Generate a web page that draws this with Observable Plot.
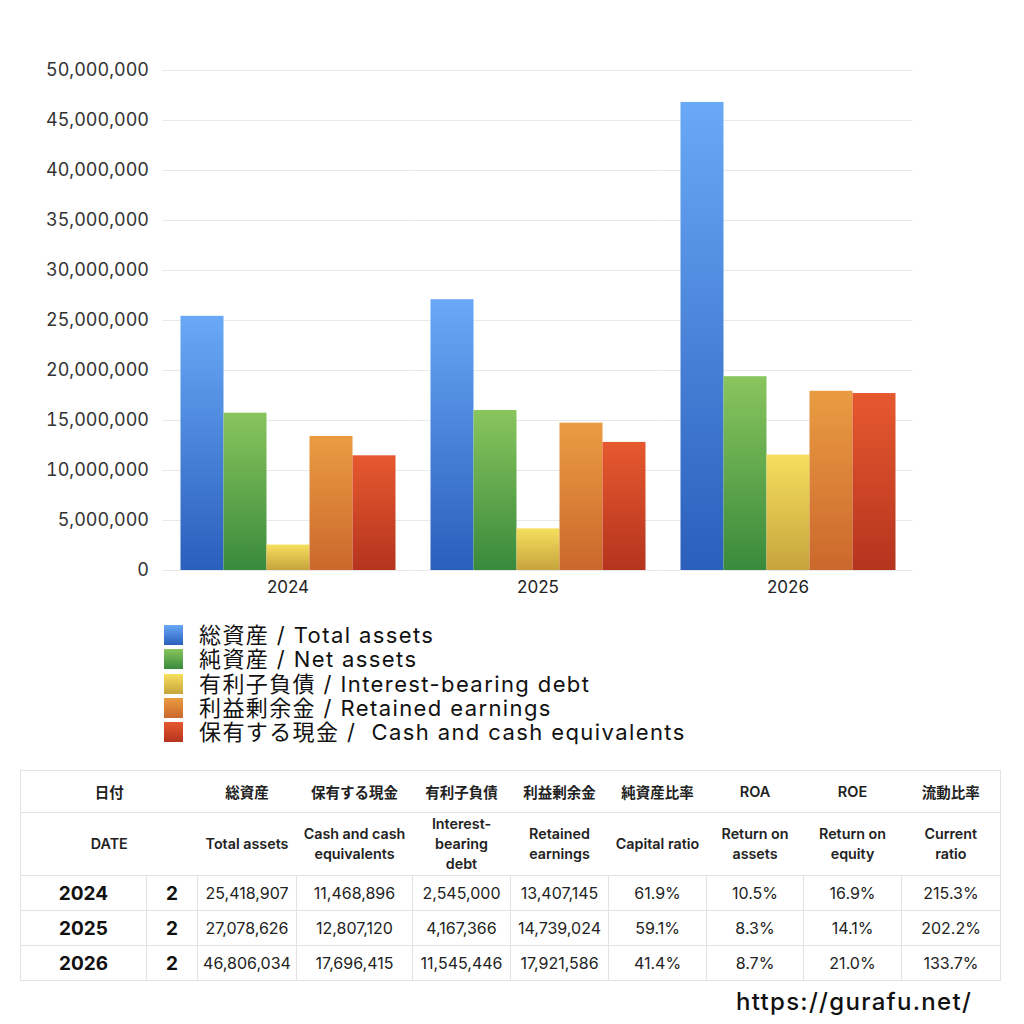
<!DOCTYPE html>
<html>
<head>
<meta charset="utf-8">
<script src="https://cdn.jsdelivr.net/npm/d3@7"></script>
<script src="https://cdn.jsdelivr.net/npm/@observablehq/plot@0.6"></script>
<style>
  html, body { margin: 0; padding: 0; background: #fff; }
  body { width: 1024px; height: 1024px; position: relative; overflow: hidden;
         font-family: Inter, "Noto Sans CJK JP", sans-serif; color: #222; }
  #chart { position: absolute; left: 0; top: 0; }
  #legend { position: absolute; left: 164px; top: 623px; }
  .lg-row { display: flex; align-items: center; height: 24.3px; }
  .lg-sw { width: 19px; height: 20px; margin-right: 16px; flex: none; }
  .lg-tx { font-size: 22px; line-height: 24px; height: 24px; white-space: pre; color: #111; letter-spacing: 1.4px; }
  #tbl { position: absolute; left: 20px; top: 770px; width: 980px; border-collapse: collapse; table-layout: fixed; }
  #tbl td { text-align: center; padding: 0; color: #222; }
  #tbl tr.h1 td { height: 41px; font-size: 14.5px; font-weight: 600; border-top: 1px solid #e3e3e3; border-bottom: 1px solid #e3e3e3; }
  #tbl tr.h2 td { height: 62px; font-size: 14.3px; font-weight: 600; line-height: 20px; border-bottom: 1px solid #e3e3e3; }
  #tbl tr.d td { height: 34px; font-size: 16px; border: 1px solid #e3e3e3; }
  #tbl tr.d td.yr { font-size: 19px; font-weight: 700; color: #111; }
  #tbl tr.d td.ct { font-size: 19px; font-weight: 700; color: #111; }
  #tbl tr.h1 td:first-child, #tbl tr.h2 td:first-child { border-left: 1px solid #e3e3e3; }
  #tbl tr.h1 td:last-child, #tbl tr.h2 td:last-child { border-right: 1px solid #e3e3e3; }
  #url { position: absolute; left: 736px; top: 987px; font-size: 24px; font-weight: 500; color: #111; letter-spacing: 1.3px; }
</style>
</head>
<body>
<div id="chart"></div>
<div id="legend"></div>
<table id="tbl"></table>
<div id="url">https://gurafu.net/</div>
<script>
// ---- data ----
const years = ["2024", "2025", "2026"];
const seriesKeys = ["total", "net", "debt", "retained", "cash"];
const seriesLabels = [
  "総資産 / Total assets",
  "純資産 / Net assets",
  "有利子負債 / Interest-bearing debt",
  "利益剰余金 / Retained earnings",
  "保有する現金 /  Cash and cash equivalents"
];
const totalAssets = [25418907, 27078626, 46806034];
const netAssets = [15730000, 16000000, 19380000];
const interestDebt = [2545000, 4167366, 11545446];
const retainedEarnings = [13407145, 14739024, 17921586];
const cashEquivalents = [11468896, 12807120, 17696415];
const yTickValues = [0, 5000000, 10000000, 15000000, 20000000, 25000000, 30000000, 35000000, 40000000, 45000000, 50000000];

const gradTop = ["#69a9f6", "#89c55d", "#f6df5e", "#ea9c42", "#e6592f"];
const gradBottom = ["#2a5fbc", "#398a3c", "#c6a43c", "#cb682c", "#b5341e"];

const headJa = ["日付", "総資産", "保有する現金", "有利子負債", "利益剰余金", "純資産比率", "ROA", "ROE", "流動比率"];
const headEn = ["DATE", "Total assets", "Cash and cash<br>equivalents", "Interest-<br>bearing<br>debt", "Retained<br>earnings", "Capital ratio", "Return on<br>assets", "Return on<br>equity", "Current<br>ratio"];
const countCol = ["2", "2", "2"];
const capitalRatio = ["61.9%", "59.1%", "41.4%"];
const roa = ["10.5%", "8.3%", "8.7%"];
const roe = ["16.9%", "14.1%", "21.0%"];
const currentRatio = ["215.3%", "202.2%", "133.7%"];

// ---- build rows ----
const seriesValues = [totalAssets, netAssets, interestDebt, retainedEarnings, cashEquivalents];
const rows = [];
years.forEach((yr, i) => {
  seriesKeys.forEach((k, j) => rows.push({year: yr, series: k, value: seriesValues[j][i]}));
});

const fmt = d3.format(",");
const gapHalf = 17.5; // half of the gap between year groups
const chart = Plot.plot({
  width: 1024,
  height: 600,
  marginTop: 70,
  marginBottom: 30,
  marginLeft: 162.5,
  marginRight: 111.5,
  style: {fontFamily: 'Inter, "Noto Sans CJK JP", sans-serif', background: "transparent", color: "#222"},
  fx: {domain: years, paddingInner: 0.14, paddingOuter: 0.07, axis: null},
  x: {domain: seriesKeys, axis: null, padding: 0},
  y: {domain: [0, 50000000], axis: null},
  color: {domain: seriesKeys, range: seriesKeys.map(k => `url(#grad-${k})`)},
  marks: [
    Plot.ruleY(yTickValues, {stroke: "#e9e9e9", strokeWidth: 1, insetLeft: -gapHalf, insetRight: -gapHalf}),
    Plot.axisY(yTickValues, {tickSize: 0, tickPadding: 14 + gapHalf, tickFormat: fmt, fontSize: 18, fill: "#333", label: null}),
    Plot.axisFx({anchor: "bottom", tickSize: 0, tickPadding: 10, fontSize: 17, fill: "#222", label: null}),
    Plot.barY(rows, {fx: "year", x: "series", y: "value", fill: "series"})
  ]
});

// gradients
const ns = "http://www.w3.org/2000/svg";
const svgEl = chart.tagName.toLowerCase() === "svg" ? chart : chart.querySelector("svg");
const defs = document.createElementNS(ns, "defs");
seriesKeys.forEach((k, i) => {
  const lg = document.createElementNS(ns, "linearGradient");
  lg.setAttribute("id", "grad-" + k);
  lg.setAttribute("x1", "0"); lg.setAttribute("y1", "0");
  lg.setAttribute("x2", "0"); lg.setAttribute("y2", "1");
  [[0, gradTop[i]], [1, gradBottom[i]]].forEach(([o, c]) => {
    const s = document.createElementNS(ns, "stop");
    s.setAttribute("offset", o);
    s.setAttribute("stop-color", c);
    lg.appendChild(s);
  });
  defs.appendChild(lg);
});
svgEl.insertBefore(defs, svgEl.firstChild);
document.getElementById("chart").appendChild(chart);

// legend
const legend = document.getElementById("legend");
seriesLabels.forEach((lab, i) => {
  const row = document.createElement("div");
  row.className = "lg-row";
  const sw = document.createElement("div");
  sw.className = "lg-sw";
  sw.style.background = `linear-gradient(${gradTop[i]}, ${gradBottom[i]})`;
  const tx = document.createElement("div");
  tx.className = "lg-tx";
  tx.textContent = lab;
  row.appendChild(sw); row.appendChild(tx);
  legend.appendChild(row);
});

// table
const colWidths = [126, 51, 99, 116, 98, 98, 98, 97, 98, 99];
let html = "<colgroup>" + colWidths.map(w => `<col style="width:${w}px">`).join("") + "</colgroup>";
html += '<tr class="h1">' + headJa.map((h, i) => `<td${i === 0 ? ' colspan="2"' : ''}>${h}</td>`).join("") + "</tr>";
html += '<tr class="h2">' + headEn.map((h, i) => `<td${i === 0 ? ' colspan="2"' : ''}>${h}</td>`).join("") + "</tr>";
years.forEach((yr, i) => {
  html += '<tr class="d">' +
    `<td class="yr">${yr}</td><td class="ct">${countCol[i]}</td>` +
    `<td>${fmt(totalAssets[i])}</td><td>${fmt(cashEquivalents[i])}</td><td>${fmt(interestDebt[i])}</td>` +
    `<td>${fmt(retainedEarnings[i])}</td><td>${capitalRatio[i]}</td><td>${roa[i]}</td><td>${roe[i]}</td><td>${currentRatio[i]}</td>` +
    "</tr>";
});
document.getElementById("tbl").innerHTML = html;
</script>
</body>
</html>
